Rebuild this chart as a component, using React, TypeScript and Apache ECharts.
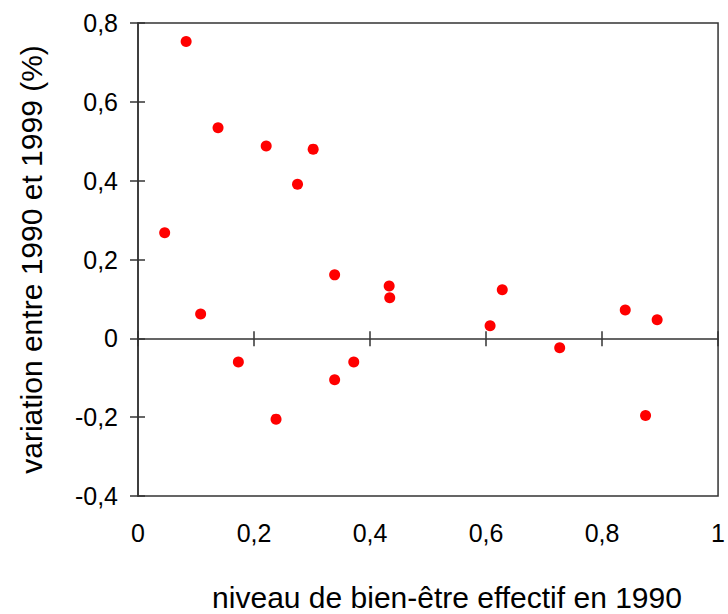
import React, { useEffect, useRef } from "react";
import * as echarts from "echarts";

const xValues = [0.046, 0.083, 0.108, 0.138, 0.173, 0.221, 0.238, 0.275, 0.302, 0.339, 0.339, 0.372, 0.433, 0.434, 0.607, 0.628, 0.727, 0.840, 0.875, 0.895];
const yValues = [0.268, 0.753, 0.062, 0.534, -0.060, 0.488, -0.205, 0.391, 0.480, 0.161, -0.105, -0.060, 0.133, 0.103, 0.032, 0.123, -0.024, 0.072, -0.196, 0.047];

const xTitle = "niveau de bien-être effectif en 1990";
const yTitle = "variation entre 1990 et 1999 (%)";

const FONT = "Liberation Sans, Arial, sans-serif";
const fmt = (v: number) => (Math.round(v * 10) / 10).toString().replace(".", ",");

export default function App() {
  const ref = useRef<HTMLDivElement>(null);
  useEffect(() => {
    if (!ref.current) return;
    const chart = echarts.init(ref.current, undefined, { renderer: "svg" });
    const lineColor = "#333";
    const baseX = {
      type: "value",
      min: 0,
      max: 1,
      interval: 0.2,
      splitLine: { show: false },
    };
    const baseY = {
      type: "value",
      min: -0.4,
      max: 0.8,
      interval: 0.2,
      splitLine: { show: false },
      position: "left",
    };
    chart.setOption({
      animation: false,
      backgroundColor: "#fff",
      grid: {
        left: 138,
        right: 7,
        top: 23,
        bottom: 118,
        show: true,
        borderColor: lineColor,
        borderWidth: 1.5,
        backgroundColor: "transparent",
      },
      xAxis: [
        {
          ...baseX,
          position: "bottom",
          axisLine: { show: false, onZero: false },
          axisTick: { show: false },
          axisLabel: {
            margin: 24,
            fontSize: 25,
            color: "#000",
            fontFamily: FONT,
            formatter: fmt,
          },
        },
        {
          ...baseX,
          position: "bottom",
          axisLine: { show: true, onZero: true, lineStyle: { color: lineColor, width: 1.5 } },
          axisTick: { show: true, inside: true, length: 7, lineStyle: { color: lineColor, width: 1.5 } },
          axisLabel: { show: false },
        },
        {
          ...baseX,
          position: "bottom",
          axisLine: { show: false, onZero: true },
          axisTick: { show: true, inside: false, length: 8, lineStyle: { color: lineColor, width: 1.5 } },
          axisLabel: { show: false },
        },
      ],
      yAxis: [
        {
          ...baseY,
          axisLine: { show: true, onZero: false, lineStyle: { color: lineColor, width: 1.5 } },
          axisTick: { show: true, inside: false, length: 8, lineStyle: { color: lineColor, width: 1.5 } },
          axisLabel: {
            margin: 20,
            fontSize: 25,
            color: "#000",
            fontFamily: FONT,
            formatter: fmt,
          },
          name: yTitle,
          nameLocation: "middle",
          nameGap: 92,
          nameTextStyle: { fontSize: 30, color: "#000", fontFamily: FONT },
        },
        {
          ...baseY,
          axisLine: { show: false, onZero: false },
          axisTick: { show: true, inside: true, length: 7, lineStyle: { color: lineColor, width: 1.5 } },
          axisLabel: { show: false },
        },
      ],
      graphic: [
        {
          type: "text",
          x: 447,
          y: 597,
          style: {
            text: xTitle,
            fontSize: 30,
            fill: "#000",
            fontFamily: FONT,
            textAlign: "center",
            textVerticalAlign: "middle",
          },
        },
      ],
      series: [
        {
          type: "scatter",
          xAxisIndex: 0,
          yAxisIndex: 0,
          symbol: "circle",
          symbolSize: 11,
          itemStyle: { color: "#ff0000", opacity: 1 },
          data: xValues.map((x, i) => [x, yValues[i]]),
        },
      ],
    });
    return () => chart.dispose();
  }, []);
  return (
    <div
      ref={ref}
      style={{ position: "fixed", left: 0, top: 0, width: 728, height: 614 }}
    />
  );
}
